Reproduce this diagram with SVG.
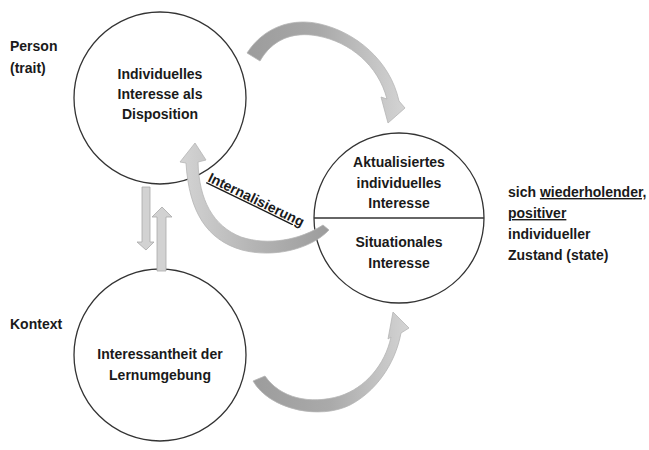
<svg xmlns="http://www.w3.org/2000/svg" width="649" height="450" viewBox="0 0 649 450">
<defs>
<style>
.t{font-family:"Liberation Sans",Arial,sans-serif;font-weight:bold;font-size:14px;fill:#1a1a1a}
.c{text-anchor:middle}
.node{fill:#fff;stroke:#333;stroke-width:1.3}
.arr{stroke:#b5b5b5;stroke-width:0.8}
.va{fill:#d2d2d2;stroke:#a8a8a8;stroke-width:0.8}
</style>
<linearGradient id="gTop" x1="0" y1="0" x2="1" y2="0">
<stop offset="0" stop-color="#9c9c9c"/><stop offset="0.45" stop-color="#a8a8a8"/><stop offset="1" stop-color="#d4d4d4"/>
</linearGradient>
<linearGradient id="gMid" x1="1" y1="0" x2="0" y2="0">
<stop offset="0" stop-color="#9c9c9c"/><stop offset="0.5" stop-color="#b4b4b4"/><stop offset="1" stop-color="#d4d4d4"/>
</linearGradient>
<linearGradient id="gBot" x1="0" y1="0" x2="1" y2="0">
<stop offset="0" stop-color="#9c9c9c"/><stop offset="0.5" stop-color="#aaaaaa"/><stop offset="1" stop-color="#d4d4d4"/>
</linearGradient>
</defs>
<rect width="649" height="450" fill="#fff"/>

<g id="labels">
<text class="t" x="10" y="51">Person</text>
<text class="t" x="10" y="73">(trait)</text>
<text class="t" x="10" y="329">Kontext</text>
</g>

<g id="node-disposition">
<circle class="node" cx="160" cy="98" r="86"/>
<text class="t c" x="160" y="79">Individuelles</text>
<text class="t c" x="160" y="99">Interesse als</text>
<text class="t c" x="160" y="119">Disposition</text>
</g>

<g id="node-state">
<circle class="node" cx="399" cy="218" r="85"/>
<line x1="314" y1="218" x2="484" y2="218" stroke="#333" stroke-width="1.3"/>
<text class="t c" x="399" y="167">Aktualisiertes</text>
<text class="t c" x="399" y="188">individuelles</text>
<text class="t c" x="399" y="208">Interesse</text>
<text class="t c" x="399" y="247">Situationales</text>
<text class="t c" x="399" y="268">Interesse</text>
</g>

<g id="node-kontext">
<circle class="node" cx="160" cy="355" r="86"/>
<text class="t c" x="160" y="359">Interessantheit der</text>
<text class="t c" x="160" y="380">Lernumgebung</text>
</g>

<g id="node-zustand">
<text class="t" x="508" y="197">sich <tspan text-decoration="underline">wiederholender,</tspan></text>
<text class="t" x="508" y="218" text-decoration="underline">positiver</text>
<text class="t" x="508" y="239">individueller</text>
<text class="t" x="508" y="260">Zustand (state)</text>
</g>

<g id="connectors">
<path class="arr" fill="url(#gTop)" d="M247,53 C265,25 295,18 320,24 C355,32 390,60 399,101 L405,108 L388,123 L381,97 L387,99 C378,65 350,42 318,36 C292,31 272,40 260,61 Z"/>
<path class="arr" fill="url(#gMid)" d="M329,230 C310,250 272,258 242,250 C207,240 189,212 186,163 L180,162 L195,143 L206,160 L198,162 C199,200 213,226 241,237 C268,246 300,240 323,225 Z"/>
<path class="arr" fill="url(#gBot)" d="M253,381 C270,410 320,420 350,405 C375,392 395,365 401,333 L409,328 L393,312 L388,339 L391,337 C385,365 365,388 340,396 C310,405 280,398 265,376 Z"/>
<path class="va" d="M142,187 L150,187 L150,242 L154,242 L146,250 L137,242 L142,242 Z"/>
<path class="va" d="M157,271 L166,271 L166,217 L172,217 L162,207 L152,217 L157,217 Z"/>
<text class="t" x="0" y="0" text-decoration="underline" transform="translate(207,181) rotate(26)">Internalisierung</text>
</g>
</svg>
